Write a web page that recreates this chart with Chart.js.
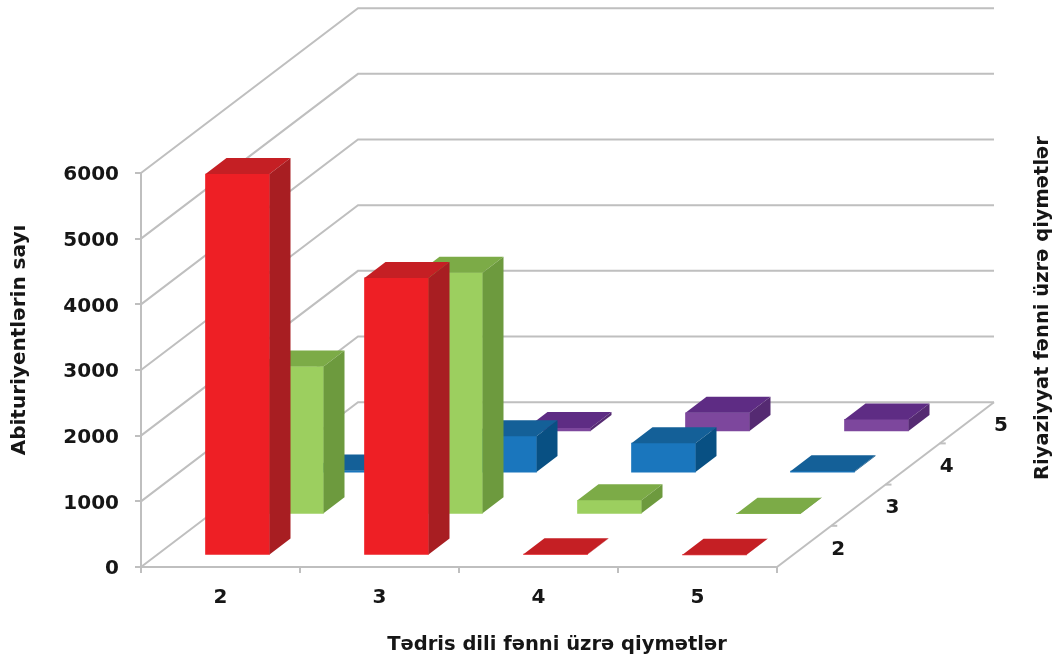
<!DOCTYPE html>
<html>
<head>
<meta charset="utf-8">
<style>html,body{margin:0;padding:0;background:#fff;overflow:hidden}canvas{display:block}</style>
<script src="https://cdn.jsdelivr.net/npm/chart.js@4"></script>
</head>
<body>
<canvas id="c" width="1057" height="657"></canvas>
<script>
const languageGrades = ['2', '3', '4', '5'];
const mathGrades = ['2', '3', '4', '5'];
const mathGrade2 = [5810, 4227, 20, 10];
const mathGrade3 = [2250, 3680, 213, 10];
const mathGrade4 = [40, 562, 456, 30];
const mathGrade5 = [20, 60, 290, 190];
const yTitle = 'Abituriyentlərin sayı';
const xTitle = 'Tədris dili fənni üzrə qiymətlər';
const depthTitle = 'Riyaziyyat fənni üzrə qiymətlər';

const FRONT = ['#ee1f25', '#9ccf5f', '#1a76bd', '#7d479d'];
const TOP = ['#c51f24', '#7cab47', '#146098', '#5e2c84'];
const SIDE = ['#a81e22', '#6d9a3e', '#085083', '#552a72'];
const GRID = '#bfbfbf';
const INK = '#161616';
const FAM = '"DejaVu Sans", Verdana, sans-serif';
const UNIT = { x: 54.25, y: -41.2 };
const ROW = { x: 16.5, y: -11.5 };
const BAR = { x: 21, y: -16 };

const series = [mathGrade2, mathGrade3, mathGrade4, mathGrade5];

function poly(ctx, pts, fill) {
  ctx.beginPath();
  pts.forEach((p, i) => i ? ctx.lineTo(p[0], p[1]) : ctx.moveTo(p[0], p[1]));
  ctx.closePath();
  ctx.fillStyle = fill;
  ctx.fill();
}

const walls = {
  id: 'walls',
  beforeDatasetsDraw(chart) {
    const { ctx, scales: { x, y } } = chart;
    const n = mathGrades.length;
    const dx = UNIT.x * n, dy = UNIT.y * n;
    ctx.save();
    ctx.strokeStyle = GRID;
    ctx.lineWidth = 2;
    y.ticks.forEach(t => {
      const py = y.getPixelForValue(t.value);
      ctx.beginPath();
      ctx.moveTo(x.left, py);
      ctx.lineTo(x.left + dx, py + dy);
      ctx.lineTo(x.right + dx, py + dy);
      ctx.stroke();
    });
    ctx.beginPath();
    ctx.moveTo(x.right, y.bottom);
    ctx.lineTo(x.right + dx, y.bottom + dy);
    ctx.stroke();
    for (let i = 1; i < n; i++) {
      ctx.beginPath();
      const ex = x.right + UNIT.x * i, ey = y.bottom + UNIT.y * i;
      ctx.moveTo(ex, ey);
      ctx.lineTo(ex + 6, ey);
      ctx.stroke();
    }
    ctx.restore();
  },
  beforeDatasetDraw(chart, args) {
    const d = args.index;
    chart.ctx.save();
    chart.ctx.translate(Math.round(ROW.x + UNIT.x * d), ROW.y + UNIT.y * d);
  },
  afterDatasetDraw(chart, args) {
    const { ctx } = chart;
    const d = args.index;
    args.meta.data.forEach(el => {
      const l = el.x - el.width / 2, r = el.x + el.width / 2, t = el.y, b = el.base;
      poly(ctx, [[l, t], [r, t], [r + BAR.x, t + BAR.y], [l + BAR.x, t + BAR.y]], TOP[d]);
      poly(ctx, [[r, t], [r + BAR.x, t + BAR.y], [r + BAR.x, b + BAR.y], [r, b]], SIDE[d]);
    });
    ctx.restore();
  },
  afterDraw(chart) {
    const { ctx, scales: { x, y } } = chart;
    ctx.save();
    ctx.fillStyle = INK;
    ctx.textAlign = 'center';
    ctx.textBaseline = 'middle';
    ctx.font = 'bold 20px ' + FAM;
    mathGrades.forEach((g, i) => {
      ctx.fillText(g, x.right + UNIT.x * (i + 0.5) + 34, y.bottom + UNIT.y * (i + 0.5) + 3);
    });
    ctx.font = 'bold 19.5px ' + FAM;
    ctx.fillText(xTitle, 557, 645);
    ctx.save();
    ctx.translate(1043, 308);
    ctx.rotate(-Math.PI / 2);
    ctx.fillText(depthTitle, 0, 0);
    ctx.restore();
    ctx.font = 'bold 20px ' + FAM;
    ctx.save();
    ctx.translate(20, 340);
    ctx.rotate(-Math.PI / 2);
    ctx.fillText(yTitle, 0, 0);
    ctx.restore();
    ctx.restore();
  }
};

new Chart(document.getElementById('c'), {
  type: 'bar',
  plugins: [walls],
  data: {
    labels: languageGrades,
    datasets: series.map((values, i) => ({
      label: mathGrades[i],
      data: values,
      backgroundColor: FRONT[i],
      borderWidth: 0,
      grouped: false,
      barThickness: 64,
      clip: false
    }))
  },
  options: {
    responsive: false,
    animation: false,
    devicePixelRatio: 1,
    layout: { padding: { left: 0, right: 280, top: 173, bottom: 0 } },
    plugins: { legend: { display: false }, tooltip: { enabled: false } },
    scales: {
      x: {
        offset: true,
        afterFit(s) { s.height = 90; },
        border: { color: GRID, width: 2 },
        grid: { color: GRID, lineWidth: 2, drawOnChartArea: false, tickLength: 6, offset: true },
        ticks: { color: INK, padding: 13, font: { family: FAM, weight: 'bold', size: 20 }, maxRotation: 0 }
      },
      y: {
        min: 0,
        max: 6000,
        afterFit(s) { s.width = 141; },
        border: { color: GRID, width: 2 },
        grid: { color: GRID, lineWidth: 2, drawOnChartArea: false, tickLength: 6 },
        ticks: { stepSize: 1000, color: INK, padding: 16, labelOffset: 2, callback: v => String(v), font: { family: FAM, weight: 'bold', size: 20 } }
      }
    }
  }
});
</script>
</body>
</html>
